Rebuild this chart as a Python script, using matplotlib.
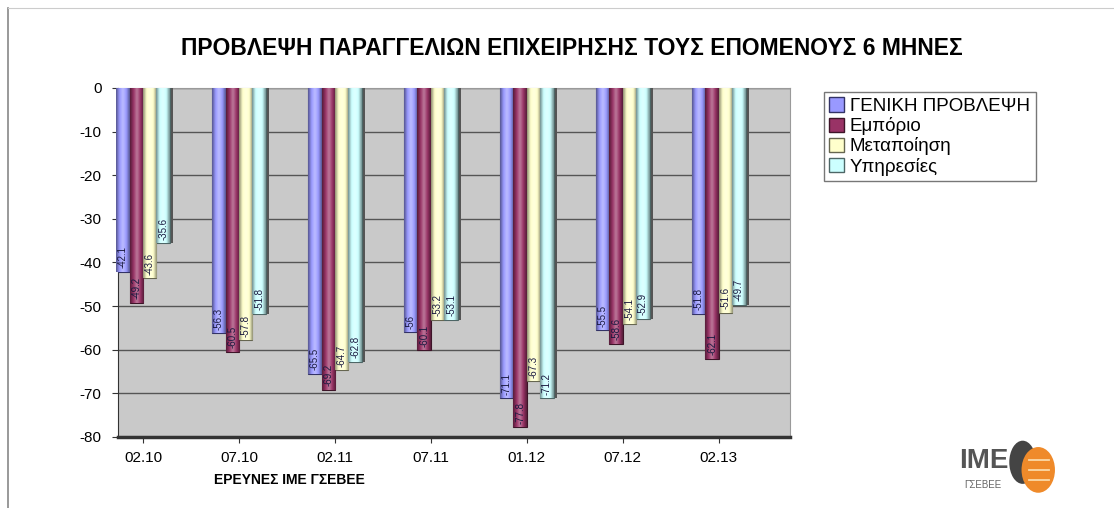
import numpy as np
import matplotlib
matplotlib.use('Agg')
import matplotlib.pyplot as plt
from matplotlib.colors import LinearSegmentedColormap, to_rgb
from matplotlib.patches import Rectangle, Ellipse, Patch

plt.rcParams['font.family'] = ['Liberation Sans', 'DejaVu Sans']

# ---- δεδομένα ----
periods = ['02.10', '07.10', '02.11', '07.11', '01.12', '07.12', '02.13']
series_names = ['ΓΕΝΙΚΗ ΠΡΟΒΛΕΨΗ', 'Εμπόριο', 'Μεταποίηση', 'Υπηρεσίες']
geniki = [-42.1, -56.3, -65.5, -56.0, -71.1, -55.5, -51.8]
emporio = [-49.2, -60.5, -69.2, -60.1, -77.8, -58.6, -62.1]
metapoiisi = [-43.6, -57.8, -64.7, -53.2, -67.3, -54.1, -51.6]
ypiresies = [-35.6, -51.8, -62.8, -53.1, -71.2, -52.9, -49.7]
yticks = [0, -10, -20, -30, -40, -50, -60, -70, -80]

series = [geniki, emporio, metapoiisi, ypiresies]
colors = ['#9999ff', '#993366', '#ffffcc', '#ccffff']
edge_colors = ['#333366', '#3d1428', '#666650', '#4d6666']

fig = plt.figure(figsize=(11.14, 5.08), dpi=100)
fig.patch.set_facecolor('white')

# πλαίσιο σελίδας
fig.add_artist(plt.Line2D([0.007, 0.007], [0.0, 0.985], color='#888888', lw=1.2,
                          transform=fig.transFigure))
fig.add_artist(plt.Line2D([0.007, 1.0], [0.985, 0.985], color='#cccccc', lw=0.8,
                          transform=fig.transFigure))

ax = fig.add_axes([0.106, 0.140, 0.603, 0.687])
ax.set_facecolor('#c9c9c9')

x = np.arange(len(periods))
bw = 0.14
offsets = (np.arange(4) - 1.5) * bw

def shade(c):
    r, g, b = to_rgb(c)
    dark = (r * 0.55, g * 0.55, b * 0.55)
    light = tuple(min(1, v + (1 - v) * 0.35) for v in (r, g, b))
    return LinearSegmentedColormap.from_list('s', [dark, c, light, c, dark])

def fmt(v):
    return f'{v:.0f}' if v == int(v) else f'{v:.1f}'

grad = np.linspace(0, 1, 64).reshape(1, -1)
handles = []
for k, vals in enumerate(series):
    bars = ax.bar(x + offsets[k], vals, width=bw, color=colors[k],
                  edgecolor=edge_colors[k], linewidth=0.8, zorder=3)
    for p in bars:
        x0, y0 = p.get_x(), p.get_y()
        w, h = p.get_width(), p.get_height()
        im = ax.imshow(grad, extent=[x0, x0 + w, y0 + h, y0], aspect='auto',
                       cmap=shade(colors[k]), zorder=3.5, interpolation='bicubic')
        im.set_clip_path(p)
    for xi, v in zip(x, vals):
        ax.text(xi + offsets[k], v + 0.8, fmt(v), rotation=90, ha='center',
                va='bottom', fontsize=7, color='#1a1a40', zorder=5)
    handles.append(Patch(facecolor=colors[k], edgecolor=edge_colors[k], label=series_names[k]))

# σκιά δεξιάς πλευράς κάθε ομάδας
for xi, v in zip(x, ypiresies):
    ax.add_patch(Rectangle((xi + offsets[3] + bw / 2, v), 0.03, -v,
                           facecolor='#555555', edgecolor='none', zorder=2.9))

ax.set_xlim(-0.26, 6.74)
ax.set_ylim(-80, 0)
ax.set_yticks(yticks)
ax.set_yticklabels([str(t) for t in yticks], fontsize=11)
ax.set_xticks(x)
ax.set_xticklabels(periods, fontsize=11)
ax.tick_params(axis='y', length=4, color='#333333', pad=8)
ax.tick_params(axis='x', length=4, color='#333333', pad=6)
ax.grid(axis='y', color='#555555', linewidth=1.0, zorder=1)
ax.set_axisbelow(True)
for s in ['top', 'right']:
    ax.spines[s].set_color('#9a9a9a')
ax.spines['left'].set_color('#333333')
ax.spines['bottom'].set_color('#333333')
ax.spines['bottom'].set_linewidth(2.5)

fig.text(0.513, 0.905, 'ΠΡΟΒΛΕΨΗ ΠΑΡΑΓΓΕΛΙΩΝ ΕΠΙΧΕΙΡΗΣΗΣ ΤΟΥΣ ΕΠΟΜΕΝΟΥΣ 6 ΜΗΝΕΣ',
         ha='center', va='center', fontsize=16.5, fontweight='bold')
fig.text(0.26, 0.055, 'ΕΡΕΥΝΕΣ ΙΜΕ ΓΣΕΒΕΕ', ha='center', va='center',
         fontsize=10, fontweight='bold')

leg = fig.legend(handles=handles, loc='upper left', bbox_to_anchor=(0.731, 0.838),
                 fontsize=13.5, frameon=True, fancybox=False, framealpha=1,
                 edgecolor='#777777', handlelength=0.8, handleheight=0.8,
                 handletextpad=0.3, labelspacing=0.12, borderpad=0.3)
leg.get_frame().set_linewidth(1.0)

# λογότυπο
fig.text(0.883, 0.092, 'IME', ha='center', va='center', fontsize=20,
         fontweight='bold', color='#555555')
fig.text(0.882, 0.045, 'ΓΣΕΒΕΕ', ha='center', va='center', fontsize=7,
         color='#666666')
fig.add_artist(Ellipse((0.918, 0.09), 0.024, 0.085, transform=fig.transFigure,
                       facecolor='#444444', edgecolor='none'))
fig.add_artist(Ellipse((0.932, 0.075), 0.03, 0.09, transform=fig.transFigure,
                       facecolor='#ef8a2a', edgecolor='none'))
for dy in (0.055, 0.075, 0.095):
    fig.add_artist(plt.Line2D([0.924, 0.942], [dy, dy], color='#fbd9a8', lw=1.3,
                              transform=fig.transFigure))

fig.savefig('out.png', dpi=100, facecolor='white')
